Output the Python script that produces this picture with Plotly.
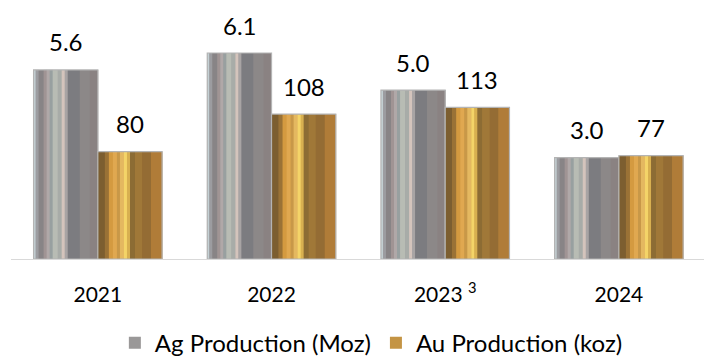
import plotly.graph_objects as go

# data
years = ["2021", "2022", "2023", "2024"]
year_labels = ["2021", "2022", "2023 <sup>3</sup>", "2024"]
ag_production = [5.6, 6.1, 5.0, 3.0]      # Moz
au_production = [80, 108, 113, 77]        # koz
ag_labels = ["5.6", "6.1", "5.0", "3.0"]
au_labels = ["80", "108", "113", "77"]

FONT = "Lato, 'Open Sans', sans-serif"
BAR_W = 0.37

# metallic stripes (relative width, colour) left -> right
ag_stripes = [
    (2, "#c4d0d4"), (3, "#9c9ca0"), (5, "#888486"), (3, "#a09494"),
    (3, "#b0a8a8"), (3, "#98a0a0"), (5, "#b8bcb4"), (4, "#a8aca8"),
    (3, "#d4c4bc"), (3, "#a8a4a4"), (12, "#7c7c80"), (10, "#8c8888"),
    (8, "#8a8282"),
]
au_stripes = [
    (7, "#7c5e30"), (4, "#9a7236"), (4, "#d49a40"), (4, "#e0a850"),
    (3, "#c89848"), (4, "#e4b860"), (3, "#f4d468"), (3, "#d8b050"),
    (5, "#8c6c34"), (7, "#a07838"), (9, "#946c34"), (11, "#b07c38"),
]


def striped(fig, values, stripes, start, yaxis, name, base_color):
    # base trace carries the legend entry
    fig.add_trace(go.Bar(
        x=years, y=values, name=name, yaxis=yaxis,
        offset=start, width=BAR_W,
        marker=dict(color=base_color, line=dict(width=0)),
        hoverinfo="skip",
    ))
    total = sum(w for w, _ in stripes)
    pos = start
    for w, c in stripes:
        frac = w / total * BAR_W
        fig.add_trace(go.Bar(
            x=years, y=values, yaxis=yaxis, showlegend=False,
            offset=pos, width=frac + 0.002,
            marker=dict(color=c, line=dict(width=0)),
            hoverinfo="skip",
        ))
        pos += frac
    # outline
    fig.add_trace(go.Bar(
        x=years, y=values, yaxis=yaxis, showlegend=False,
        offset=start, width=BAR_W,
        marker=dict(color="rgba(0,0,0,0)", line=dict(color="#b4b4b4", width=1.2)),
        hovertemplate=name + ": %{y}<extra></extra>",
    ))


fig = go.Figure()
striped(fig, ag_production, ag_stripes, -BAR_W, "y", "Ag Production (Moz)", "#9a9898")
striped(fig, au_production, au_stripes, 0.0, "y2", "Au Production (koz)", "#c49444")

# value labels (category index positions on the x axis)
annotations = []
for i, (v, t) in enumerate(zip(ag_production, ag_labels)):
    annotations.append(dict(x=i, y=v, xref="x", yref="y", text=t, showarrow=False,
                            xshift=-32, yshift=28, yanchor="middle",
                            font=dict(family=FONT, size=24, color="#000000")))
for i, (v, t) in enumerate(zip(au_production, au_labels)):
    annotations.append(dict(x=i, y=v, xref="x", yref="y2", text=t, showarrow=False,
                            xshift=32, yshift=28, yanchor="middle",
                            font=dict(family=FONT, size=24, color="#000000")))

fig.update_layout(
    width=704, height=361,
    margin=dict(l=11, r=0, t=0, b=102, autoexpand=False),
    paper_bgcolor="white", plot_bgcolor="white",
    barmode="overlay",
    font=dict(family=FONT, color="#000000"),
    xaxis=dict(
        type="category", range=[-0.5, 3.49],
        tickvals=years, ticktext=year_labels,
        tickfont=dict(size=21), ticks="", ticklabelstandoff=17,
        showline=True, linecolor="#d9d9d9", linewidth=1,
        showgrid=False, zeroline=False, automargin=False,
    ),
    yaxis=dict(range=[0, 7.67], visible=False, showgrid=False),
    yaxis2=dict(range=[0, 193], overlaying="y", visible=False, showgrid=False),
    legend=dict(orientation="h", x=0.52, xanchor="center", y=-0.325, yanchor="middle",
                font=dict(size=24), itemsizing="constant"),
    annotations=annotations,
    showlegend=True,
)

fig.write_html("out.html", config={"displayModeBar": False},
               post_script="document.body.style.margin='0';")
